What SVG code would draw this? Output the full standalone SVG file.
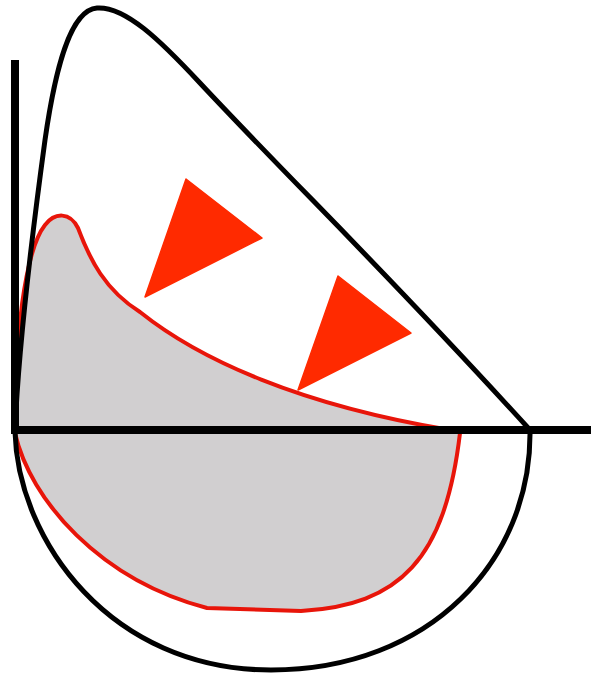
<svg xmlns="http://www.w3.org/2000/svg" width="591" height="678" viewBox="0 0 591 678">
<style>
.fill{fill:#d1cfd0;stroke:none}
.red{fill:none;stroke:#e8150a;stroke-width:4;stroke-linejoin:round}
.blk{fill:none;stroke:#000;stroke-width:5;stroke-linejoin:round}
.axis{stroke:#000;stroke-width:8;stroke-linecap:butt}
.tri{fill:#ff2a00;stroke:#ff2a00;stroke-width:1.5;stroke-linejoin:round}
</style>
<rect width="591" height="678" fill="#fff"/>
<g id="reduced-loop">
<path class="fill" d="M15,432 C14,340 25,250 45,225 C55,212 70,212 78,228 C90,260 105,290 140,312 C200,360 300,405 450,430 L460,433 C445,560 400,605 301,611 L207,608 C100,580 30,500 15,433 Z"/>
<path class="red" d="M15,432 C14,340 25,250 45,225 C55,212 70,212 78,228 C90,260 105,290 140,312 C200,360 300,405 450,430"/>
<path class="red" d="M15,433 C30,500 100,580 207,608 L301,611 C400,605 445,560 460,433"/>
</g>
<g id="normal-loop">
<path class="blk" d="M15,430 C18,360 30,250 45,140 C55,70 70,10 97,8 C125,6 160,40 200,83 C300,190 380,265 530,430"/>
<path class="blk" d="M15,432 C18,540 110,670 271,670 C430,670 532,560 530,430"/>
</g>
<g id="arrows">
<polygon class="tri" points="186,179 262,238 145,297"/>
<polygon class="tri" points="338,276 411,333 298,390"/>
</g>
<g id="axes">
<line class="axis" x1="15" y1="60" x2="15" y2="434"/>
<line class="axis" x1="11" y1="430" x2="591" y2="430"/>
</g>
</svg>
